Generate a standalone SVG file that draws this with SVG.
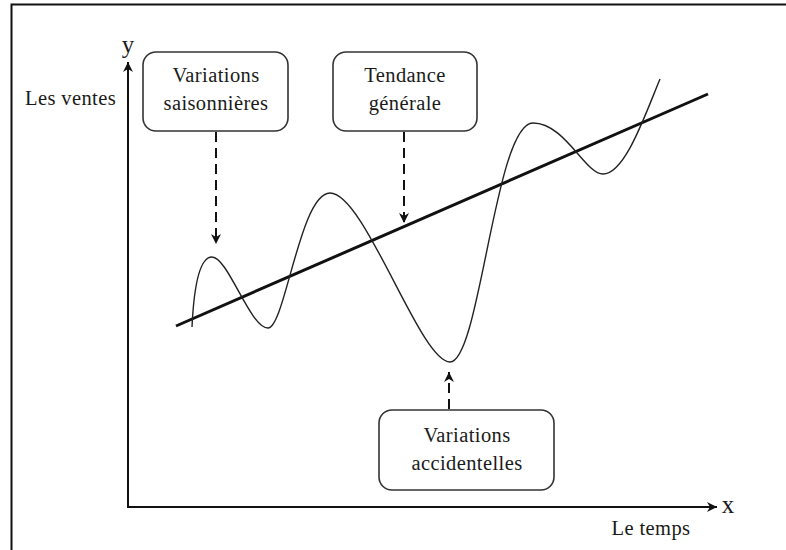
<svg xmlns="http://www.w3.org/2000/svg" width="786" height="550" viewBox="0 0 786 550">
  <style>
    text { font-family: "Liberation Serif", "Times New Roman", serif; fill: #1a1a1a; font-size: 20.5px; letter-spacing: 0.4px; }
    .mid { text-anchor: middle; }
    .big { font-size: 25px; letter-spacing: 0; }
    .box { fill: #fff; stroke: #333; stroke-width: 1.6; }
    .axis { fill: none; stroke: #111; stroke-width: 2; }
    .dash { fill: none; stroke: #111; stroke-width: 2; stroke-dasharray: 10 6; }
  </style>
  <defs>
    <marker id="head" viewBox="0 0 10 10" refX="10" refY="5" markerWidth="10" markerHeight="10" markerUnits="userSpaceOnUse" orient="auto">
      <path d="M0,0 L10,5 L0,10 L3,5 Z" fill="#111"/>
    </marker>
  </defs>

  <rect width="786" height="550" fill="#fff"/>
  <!-- outer frame -->
  <rect x="11.5" y="4.5" width="800" height="560" fill="none" stroke="#111" stroke-width="2"/>

  <!-- axes -->
  <g id="axes">
    <line class="axis" x1="128" y1="508" x2="128" y2="62" marker-end="url(#head)"/>
    <line class="axis" x1="127" y1="507" x2="717" y2="507" marker-end="url(#head)"/>
    <text x="128" y="53" class="mid big">y</text>
    <text x="728" y="513" class="mid big">x</text>
    <text x="25" y="105">Les ventes</text>
    <text x="651" y="535" class="mid">Le temps</text>
  </g>

  <!-- trend and series -->
  <g id="series">
    <line x1="176" y1="326" x2="708" y2="94" stroke="#111" stroke-width="3"/>
    <path d="M192,327 C194,285 200,257 212,257 C228,257 250,328 268,328 C285,328 300,193 330,193 C365,193 420,362 450,362 C480,362 495,123 533,123 C565,123 585,174 603,174 C625,174 645,115 660,79" fill="none" stroke="#222" stroke-width="1.4"/>
  </g>

  <!-- labels -->
  <g id="saisonnieres">
    <rect class="box" x="143" y="52" width="145" height="79" rx="13"/>
    <text x="216" y="82" class="mid">Variations</text>
    <text x="216" y="110" class="mid">saisonnières</text>
  </g>
  <g id="tendance">
    <rect class="box" x="333" y="52" width="144" height="79" rx="13"/>
    <text x="405" y="82" class="mid">Tendance</text>
    <text x="405" y="110" class="mid">générale</text>
  </g>
  <g id="accidentelles">
    <rect class="box" x="379" y="410" width="175" height="80" rx="13"/>
    <text x="467" y="442" class="mid">Variations</text>
    <text x="467" y="470" class="mid">accidentelles</text>
  </g>

  <!-- connectors -->
  <g id="connectors">
    <line class="dash" x1="216" y1="132" x2="216" y2="244" marker-end="url(#head)"/>
    <line class="dash" x1="404" y1="132" x2="404" y2="223" marker-end="url(#head)"/>
    <line class="dash" x1="449" y1="409" x2="449" y2="372" marker-end="url(#head)"/>
  </g>
</svg>
